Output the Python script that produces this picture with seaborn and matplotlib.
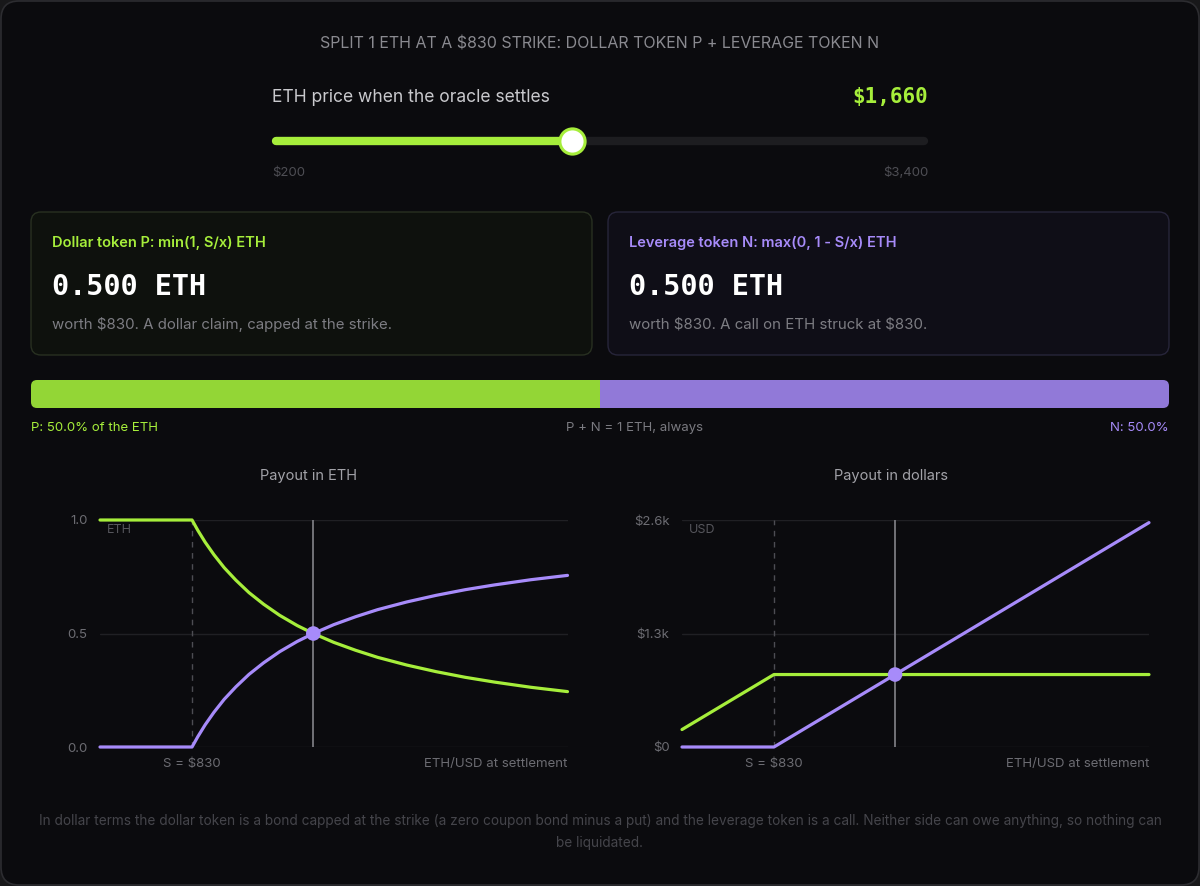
import numpy as np
import pandas as pd
import matplotlib.pyplot as plt
import seaborn as sns
from matplotlib.patches import FancyBboxPatch

# Values
strike = 830
price = 1660
price_min, price_max = 200, 3400

eth_x = [200, 500, 830, 870, 920, 980, 1050, 1130, 1220, 1320, 1430, 1550, 1660,
         1800, 1950, 2100, 2300, 2500, 2700, 2900, 3150, 3400]
p_eth = [1.0, 1.0, 1.0, 0.954, 0.902, 0.847, 0.790, 0.735, 0.680, 0.629, 0.580, 0.535, 0.500,
         0.461, 0.426, 0.395, 0.361, 0.332, 0.307, 0.286, 0.263, 0.244]
n_eth = [0.0, 0.0, 0.0, 0.046, 0.098, 0.153, 0.210, 0.265, 0.320, 0.371, 0.420, 0.465, 0.500,
         0.539, 0.574, 0.605, 0.639, 0.668, 0.693, 0.714, 0.737, 0.756]

usd_x = [200, 830, 3400]
p_usd = [200, 830, 830]
n_usd = [0, 0, 2570]

dot_eth = 0.5
dot_usd = 830

p_share = 50.0
n_share = 50.0

eth_ticks = [0.0, 0.5, 1.0]
eth_tick_labels = ["0.0", "0.5", "1.0"]
usd_ticks = [0, 1300, 2600]
usd_tick_labels = ["$0", "$1.3k", "$2.6k"]

# Colours
LIME = "#a6ee3b"
VIOLET = "#a78bfa"
BAR_LIME = "#93d636"
BAR_VIOLET = "#9179d8"
BG = "#0b0b0e"
GRID = "#202024"
TICK = "#6c6c72"

sns.set_theme(style="dark")
plt.rcParams['font.family'] = ['Inter', 'DejaVu Sans']
plt.rcParams['text.parse_math'] = False
MONO = ['DejaVu Sans Mono']

W, H = 1200, 886
fig = plt.figure(figsize=(12, 8.86), dpi=100, facecolor="#18181a")


def px_box(x0, y0, x1, y1):
    return [x0 / W, 1 - y1 / H, (x1 - x0) / W, (y1 - y0) / H]


# Background layer in pixel coordinates
bg = fig.add_axes([0, 0, 1, 1])
bg.set_xlim(0, W)
bg.set_ylim(H, 0)
bg.axis('off')
bg.add_patch(FancyBboxPatch((1, 1), W - 2, H - 2, boxstyle="round,pad=0,rounding_size=18",
                            fc=BG, ec="#2c2c30", lw=1.2))

bg.text(600, 44, "SPLIT 1 ETH AT A $830 STRIKE: DOLLAR TOKEN P + LEVERAGE TOKEN N",
        ha='center', va='center', fontsize=11.5, color="#8a8a90")

# Slider
bg.text(272, 97, "ETH price when the oracle settles", ha='left', va='center',
        fontsize=12.6, color="#c9c9cd")
bg.text(928, 97, f"${price:,}", ha='right', va='center', fontsize=15,
        fontweight='bold', family=MONO, color=LIME)
bg.text(272, 173, f"${price_min:,}", ha='left', va='center', fontsize=9.5, color="#4e4e54")
bg.text(928, 173, f"${price_max:,}", ha='right', va='center', fontsize=9.5, color="#4e4e54")

sl = fig.add_axes(px_box(276, 128, 924, 154))
sl.set_xlim(price_min, price_max)
sl.set_ylim(-1, 1)
sl.axis('off')
sl.plot([price_min, price_max], [0, 0], color="#1d1d20", lw=6, solid_capstyle='round', clip_on=False)
sl.plot([price_min, price], [0, 0], color=LIME, lw=6, solid_capstyle='round', clip_on=False)
sl.scatter([price], [0], s=330, color="white", edgecolor=LIME, linewidth=2.2, zorder=3, clip_on=False)

# Cards
bg.add_patch(FancyBboxPatch((31, 212), 561, 143, boxstyle="round,pad=0,rounding_size=10",
                            fc="#0e110d", ec="#283021", lw=1))
bg.add_patch(FancyBboxPatch((608, 212), 561, 143, boxstyle="round,pad=0,rounding_size=10",
                            fc="#0f0e17", ec="#27253a", lw=1))

bg.text(52, 243, "Dollar token P: min(1, S/x) ETH", ha='left', va='center',
        fontsize=10.5, fontweight='semibold', color=LIME)
bg.text(52, 287, f"{p_share / 100:.3f} ETH", ha='left', va='center', fontsize=20.5,
        fontweight='bold', family=MONO, color="white")
bg.text(52, 324, f"worth ${dot_usd}. A dollar claim, capped at the strike.", ha='left',
        va='center', fontsize=10.8, color="#7d7d83")

bg.text(629, 243, "Leverage token N: max(0, 1 - S/x) ETH", ha='left', va='center',
        fontsize=10.5, fontweight='semibold', color=VIOLET)
bg.text(629, 287, f"{n_share / 100:.3f} ETH", ha='left', va='center', fontsize=20.5,
        fontweight='bold', family=MONO, color="white")
bg.text(629, 324, f"worth ${dot_usd}. A call on ETH struck at ${strike}.", ha='left',
        va='center', fontsize=10.8, color="#7d7d83")

# Split bar
sb = fig.add_axes(px_box(31, 380, 1169, 408))
sb.set_xlim(0, 100)
sb.set_ylim(-0.5, 0.5)
sb.axis('off')
clip = FancyBboxPatch((31, 380), 1138, 28, boxstyle="round,pad=0,rounding_size=6",
                      transform=bg.transData)
b1 = sb.barh([0], [p_share], height=1, color=BAR_LIME, linewidth=0)
b2 = sb.barh([0], [n_share], left=[p_share], height=1, color=BAR_VIOLET, linewidth=0)
for r in list(b1) + list(b2):
    r.set_clip_path(clip)

bg.text(31, 428, f"P: {p_share:.1f}% of the ETH", ha='left', va='center', fontsize=9.5, color=LIME)
bg.text(635, 428, "P + N = 1 ETH, always", ha='center', va='center', fontsize=9.5, color="#7a7a80")
bg.text(1169, 428, f"N: {n_share:.1f}%", ha='right', va='center', fontsize=9.5, color=VIOLET)

# Payout charts
bg.text(309, 476, "Payout in ETH", ha='center', va='center', fontsize=10.5, color="#a2a2a8")
bg.text(891, 476, "Payout in dollars", ha='center', va='center', fontsize=10.5, color="#a2a2a8")

axl = fig.add_axes(px_box(100, 520, 567.5, 747))
axr = fig.add_axes(px_box(682, 520, 1149, 747))


def style_chart(ax, ylim, ticks, labels, unit):
    ax.set_facecolor("none")
    ax.set_xlim(price_min, price_max)
    ax.set_ylim(*ylim)
    ax.set_yticks(ticks)
    ax.set_yticklabels(labels)
    ax.set_xticks([])
    ax.yaxis.grid(True, color=GRID, lw=1)
    ax.xaxis.grid(False)
    for s in ax.spines.values():
        s.set_visible(False)
    ax.tick_params(axis='y', length=0, pad=9, labelsize=9.5, labelcolor=TICK)
    ax.set_xlabel("")
    ax.set_ylabel("")
    ax.axvline(strike, color="#4d4d53", lw=1, ls=(0, (4, 4)), zorder=1)
    ax.axvline(price, color="#7a7a80", lw=1.3, zorder=1)
    ax.text(0.015, 0.955, unit, transform=ax.transAxes, ha='left', va='center',
            fontsize=9, color="#56565c")
    xt = ax.get_xaxis_transform()
    ax.text(strike, -0.075, f"S = ${strike}", transform=xt, ha='center', va='center',
            fontsize=9.5, color=TICK)
    ax.text(price_max, -0.075, "ETH/USD at settlement", transform=xt, ha='right', va='center',
            fontsize=9.5, color=TICK)


style_chart(axl, (0, 1), eth_ticks, eth_tick_labels, "ETH")
sns.lineplot(x=eth_x, y=p_eth, ax=axl, color=LIME, lw=2.3, clip_on=False, zorder=2)
sns.lineplot(x=eth_x, y=n_eth, ax=axl, color=VIOLET, lw=2.3, clip_on=False, zorder=3)
sns.scatterplot(x=[price], y=[dot_eth], ax=axl, s=110, color=VIOLET, edgecolor='none', zorder=4)

style_chart(axr, (0, 2600), usd_ticks, usd_tick_labels, "USD")
sns.lineplot(x=usd_x, y=p_usd, ax=axr, color=LIME, lw=2.3, clip_on=False, zorder=2)
sns.lineplot(x=usd_x, y=n_usd, ax=axr, color=VIOLET, lw=2.3, clip_on=False, zorder=3)
sns.scatterplot(x=[price], y=[dot_usd], ax=axr, s=110, color=VIOLET, edgecolor='none', zorder=4)

# Footer
bg.text(600, 832,
        "In dollar terms the dollar token is a bond capped at the strike (a zero coupon bond minus a put) "
        "and the leverage token is a call. Neither side can owe anything, so nothing can\nbe liquidated.",
        ha='center', va='center', fontsize=9.8, color="#45454b", linespacing=1.75)

fig.savefig("out.png", dpi=100, facecolor=fig.get_facecolor())
